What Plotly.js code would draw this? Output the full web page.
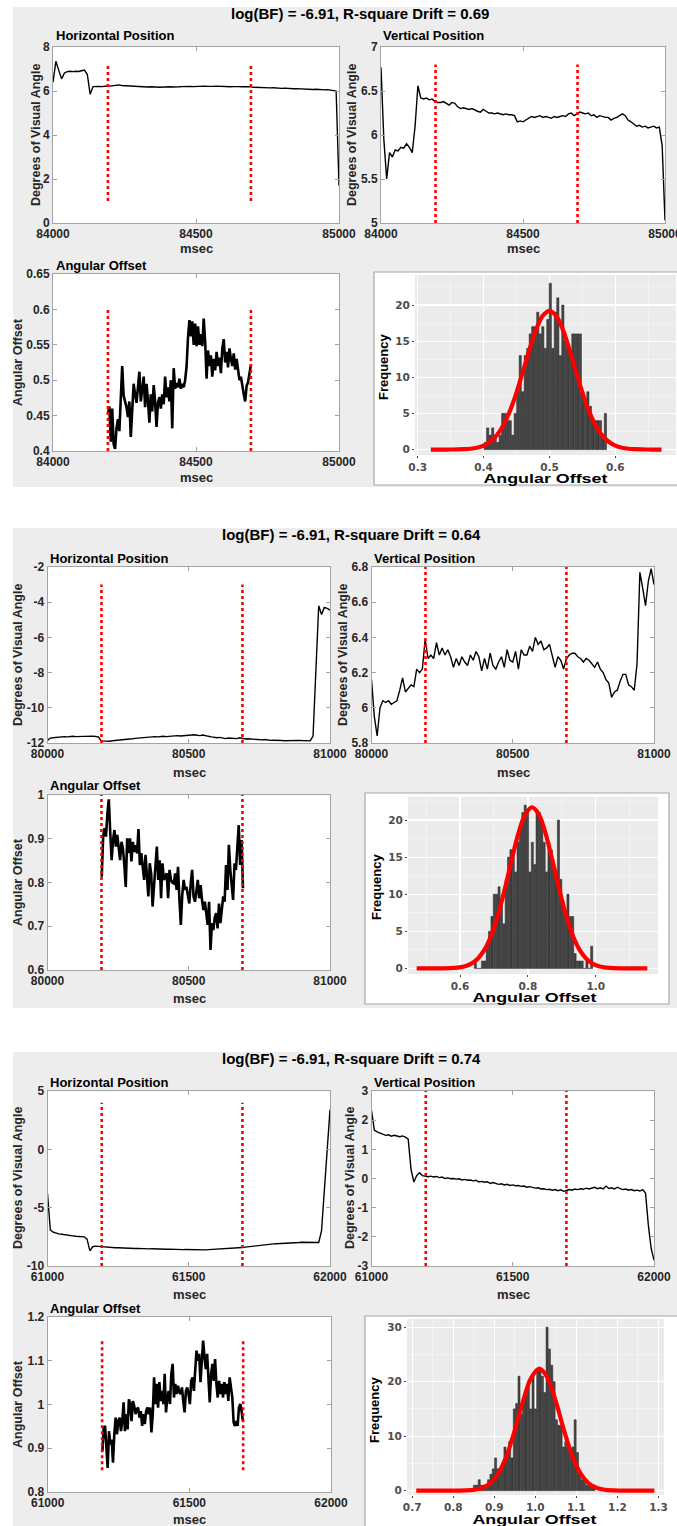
<!DOCTYPE html>
<html><head><meta charset="utf-8">
<script src="https://cdn.plot.ly/plotly-3.0.1.min.js"></script>
<style>html,body{margin:0;padding:0;background:#fff}</style>
</head><body><div id="chart" style="width:677px;height:1526px"></div>
<script>
// ================= DATA =================
const panelTitles = ['log(BF) = -6.91, R-square Drift = 0.69','log(BF) = -6.91, R-square Drift = 0.64','log(BF) = -6.91, R-square Drift = 0.74'];
const subTitles = ['Horizontal Position','Vertical Position','Angular Offset'];
const posYLabel = 'Degrees of Visual Angle';
const angYLabel = 'Angular Offset';
const timeLabel = 'msec';
const histXLabel = 'Angular Offset';
const histYLabel = 'Frequency';

// time windows (msec) and event markers
const p1Window = [84000, 85000], p2Window = [80000, 81000], p3Window = [61000, 62000];
const p1Markers = [84192, 84692], p2Markers = [80191, 80690], p3Markers = [61192, 61690];
const p1XTicks = [84000, 84500, 85000], p2XTicks = [80000, 80500, 81000], p3XTicks = [61000, 61500, 62000];
const posSampleMs = 10;

// ---- panel 1 ----
const p1H = [6.4,7.35,6.95,6.55,6.82,6.88,6.9,6.88,6.9,6.89,6.92,6.95,6.75,5.85,6.2,6.22,6.21,6.2,6.22,6.23,
6.22,6.24,6.25,6.28,6.25,6.24,6.23,6.22,6.21,6.2,6.21,6.19,6.2,6.18,6.19,6.17,6.18,6.17,6.18,6.17,
6.18,6.19,6.18,6.2,6.19,6.2,6.21,6.2,6.21,6.2,6.21,6.2,6.21,6.22,6.21,6.2,6.21,6.22,6.21,6.2,
6.21,6.2,6.19,6.2,6.21,6.2,6.19,6.2,6.21,6.2,6.17,6.16,6.17,6.15,6.16,6.15,6.14,6.15,6.13,6.14,
6.12,6.13,6.11,6.12,6.1,6.11,6.1,6.09,6.1,6.08,6.09,6.07,6.08,6.06,6.07,6.05,6.06,6.04,6.03,6.0,1.7];
const p1V = [6.77,5.95,5.5,5.8,5.75,5.83,5.82,5.86,5.85,5.9,5.86,5.8,6.1,6.56,6.42,6.41,6.42,6.4,6.41,6.38,
6.37,6.37,6.38,6.36,6.34,6.37,6.36,6.32,6.3,6.31,6.3,6.29,6.3,6.28,6.27,6.26,6.29,6.27,6.25,6.25,
6.24,6.25,6.24,6.23,6.24,6.23,6.23,6.22,6.15,6.16,6.15,6.17,6.2,6.21,6.2,6.21,6.22,6.2,6.21,6.2,
6.19,6.21,6.2,6.21,6.22,6.21,6.24,6.25,6.22,6.24,6.26,6.25,6.24,6.25,6.22,6.23,6.2,6.22,6.21,6.2,
6.2,6.17,6.19,6.2,6.22,6.24,6.22,6.17,6.15,6.13,6.1,6.11,6.09,6.1,6.08,6.09,6.1,6.08,6.09,5.88,5.03];
const p1AStart = 84192, p1ASampleMs = 5;
const p1A = [0.452,0.463,0.413,0.46,0.41,0.403,0.432,0.445,0.428,0.47,0.52,0.478,0.47,0.462,0.448,0.47,0.42,0.47,0.495,0.48,
0.468,0.49,0.512,0.47,0.486,0.505,0.462,0.495,0.472,0.44,0.48,0.456,0.493,0.47,0.434,0.468,0.476,0.46,0.48,0.466,
0.505,0.476,0.49,0.47,0.5,0.432,0.517,0.488,0.496,0.49,0.502,0.488,0.495,0.49,0.5,0.519,0.56,0.585,0.562,0.583,
0.55,0.58,0.548,0.576,0.55,0.565,0.548,0.587,0.555,0.502,0.542,0.52,0.535,0.505,0.53,0.514,0.54,0.52,0.532,0.51,
0.545,0.558,0.525,0.54,0.518,0.545,0.53,0.52,0.538,0.515,0.53,0.51,0.5,0.505,0.49,0.48,0.47,0.492,0.497,0.51,0.522];
const p1HYTicks = [0,2,4,6,8], p1VYTicks = [5,5.5,6,6.5,7], p1AYTicks = [0.4,0.45,0.5,0.55,0.6,0.65];
const p1HRed = [1, 7.25], p1VRed = [5, 6.8], p1ARed = [0.4, 0.6];
const p1HistStart = 0.4025, p1HistBin = 0.0038;
const p1Counts = [1,3,2,3,2,1,2,5,5,4,4,2,5,8,13,8,13,14,16,17,17,19,16,17,14,18,23,14,19,21,13,20,15,14,13,16,16,16,16,8,7,8,6,4,4,4,4,2,5];
const p1CurveStart = 0.32, p1CurveStep = 0.01;
const p1Curve = [0,0,0,0.01,0.02,0.05,0.11,0.26,0.55,1.08,1.97,3.36,5.34,7.89,10.87,13.94,16.66,18.53,19.2,18.53,16.66,13.94,10.87,7.89,5.34,3.36,1.97,1.08,0.55,0.26,0.11,0.05,0.02,0.01,0,0];
const p1HistX = [0.3,0.4,0.5,0.6], p1HistXText = ['0.3','0.4','0.5','0.6'];
const p1HistY = [0,5,10,15,20];

// ---- panel 2 ----
const p2H = [-11.85,-11.72,-11.7,-11.68,-11.65,-11.66,-11.64,-11.65,-11.63,-11.62,-11.64,-11.63,-11.62,-11.62,-11.63,-11.62,-11.61,-11.63,-11.65,-11.88,
-11.9,-11.88,-11.9,-11.87,-11.86,-11.84,-11.82,-11.8,-11.8,-11.78,-11.76,-11.74,-11.72,-11.7,-11.68,-11.66,-11.68,-11.66,-11.64,-11.65,
-11.63,-11.62,-11.64,-11.62,-11.6,-11.62,-11.58,-11.6,-11.58,-11.56,-11.58,-11.55,-11.53,-11.56,-11.58,-11.55,-11.6,-11.62,-11.65,-11.68,
-11.7,-11.68,-11.72,-11.75,-11.72,-11.74,-11.73,-11.75,-11.7,-11.75,-11.77,-11.76,-11.78,-11.8,-11.78,-11.8,-11.82,-11.8,-11.83,-11.85,
-11.84,-11.86,-11.85,-11.86,-11.87,-11.86,-11.85,-11.87,-11.86,-11.85,-11.86,-11.87,-11.86,-11.88,-11.6,-7.6,-4.2,-4.7,-4.3,-4.35,-4.45];
const p2V = [6.16,5.95,5.84,6.0,6.04,6.03,6.04,6.02,6.03,6.04,6.1,6.17,6.09,6.11,6.13,6.12,6.22,6.2,6.22,6.39,
6.28,6.3,6.28,6.37,6.3,6.34,6.3,6.33,6.29,6.23,6.28,6.24,6.29,6.26,6.24,6.3,6.27,6.32,6.29,6.21,
6.28,6.22,6.31,6.24,6.22,6.26,6.29,6.23,6.33,6.27,6.26,6.32,6.22,6.33,6.3,6.3,6.35,6.32,6.4,6.36,
6.38,6.33,6.34,6.36,6.3,6.23,6.29,6.27,6.22,6.28,6.3,6.31,6.31,6.29,6.28,6.26,6.28,6.27,6.25,6.23,
6.26,6.22,6.2,6.16,6.14,6.06,6.09,6.1,6.15,6.19,6.19,6.13,6.12,6.1,6.25,6.77,6.68,6.58,6.72,6.79,6.7];
const p2AStart = 80192, p2ASampleMs = 5;
const p2A = [0.813,0.905,0.924,0.905,0.958,0.99,0.916,0.851,0.897,0.92,0.882,0.909,0.88,0.851,0.893,0.878,0.84,0.79,0.901,0.867,
0.901,0.848,0.893,0.87,0.885,0.867,0.922,0.84,0.867,0.83,0.806,0.863,0.821,0.768,0.844,0.82,0.745,0.798,0.85,0.882,
0.806,0.851,0.764,0.844,0.806,0.815,0.821,0.764,0.829,0.806,0.8,0.798,0.821,0.783,0.836,0.76,0.703,0.771,0.806,0.783,
0.79,0.77,0.752,0.798,0.829,0.768,0.756,0.78,0.806,0.764,0.794,0.76,0.737,0.756,0.722,0.703,0.756,0.646,0.707,0.691,
0.72,0.73,0.695,0.752,0.707,0.74,0.768,0.756,0.84,0.783,0.886,0.829,0.8,0.76,0.844,0.829,0.88,0.931,0.84,0.897,0.787];
const p2HYTicks = [-12,-10,-8,-6,-4,-2], p2VYTicks = [5.8,6,6.2,6.4,6.6,6.8], p2AYTicks = [0.6,0.7,0.8,0.9,1];
const p2HRed = [-12, -3], p2VRed = [5.8, 6.8], p2ARed = [0.6, 1.0];
const p2HistStart = 0.645, p2HistBin = 0.007;
const p2Counts = [1,0,0,1,1,3,5,7,10,10,11,9,6,12,15,16,15,13,17,19,21,22,21,13,17,14,21,21,20,17,13,17,16,14,12,20,12,9,7,10,7,7,2,1,1,1,0,1,0,3];
const p2CurveStart = 0.472, p2CurveStep = 0.02;
const p2Curve = [0,0,0,0,0.01,0.04,0.11,0.27,0.62,1.31,2.53,4.47,7.25,10.75,14.6,18.2,20.77,21.7,20.77,18.2,14.6,10.75,7.25,4.47,2.53,1.31,0.62,0.27,0.11,0.04,0.01,0,0,0,0];
const p2HistX = [0.6,0.8,1.0], p2HistXText = ['0.6','0.8','1.0'];
const p2HistY = [0,5,10,15,20];

// ---- panel 3 ----
const p3H = [-3.8,-6.9,-7.1,-7.2,-7.25,-7.28,-7.3,-7.35,-7.38,-7.42,-7.45,-7.46,-7.48,-7.5,-7.7,-8.7,-8.35,-8.3,-8.32,-8.35,
-8.38,-8.36,-8.4,-8.42,-8.44,-8.43,-8.45,-8.46,-8.47,-8.48,-8.49,-8.5,-8.49,-8.51,-8.52,-8.51,-8.53,-8.52,-8.54,-8.53,
-8.55,-8.54,-8.56,-8.55,-8.57,-8.58,-8.57,-8.59,-8.6,-8.59,-8.6,-8.61,-8.62,-8.64,-8.63,-8.62,-8.62,-8.6,-8.59,-8.57,
-8.56,-8.55,-8.54,-8.52,-8.51,-8.5,-8.48,-8.46,-8.44,-8.42,-8.38,-8.35,-8.3,-8.28,-8.25,-8.2,-8.19,-8.17,-8.15,-8.13,
-8.1,-8.09,-8.07,-8.06,-8.05,-8.03,-8.02,-8.01,-8.0,-7.99,-7.97,-7.97,-7.96,-7.95,-7.96,-7.95,-7.98,-7.0,-3.2,0.3,3.4];
const p3V = [2.34,1.66,1.6,1.56,1.52,1.48,1.5,1.45,1.48,1.45,1.43,1.46,1.42,1.35,0.3,-0.12,0.1,0.2,0.1,0.08,
0.06,0.08,0.05,0.07,0.03,0.05,0.0,0.02,-0.01,0.0,-0.02,-0.01,-0.05,-0.03,-0.06,-0.05,-0.08,-0.06,-0.12,-0.1,
-0.13,-0.11,-0.17,-0.14,-0.18,-0.2,-0.18,-0.22,-0.2,-0.24,-0.22,-0.25,-0.24,-0.27,-0.26,-0.3,-0.28,-0.31,-0.33,-0.32,
-0.36,-0.35,-0.38,-0.37,-0.4,-0.38,-0.42,-0.39,-0.44,-0.41,-0.38,-0.4,-0.36,-0.38,-0.35,-0.37,-0.33,-0.36,-0.34,-0.3,
-0.35,-0.32,-0.36,-0.26,-0.34,-0.32,-0.36,-0.3,-0.35,-0.38,-0.36,-0.4,-0.38,-0.42,-0.4,-0.43,-0.38,-0.5,-1.6,-2.4,-2.8];
const p3AStart = 61193, p3ASampleMs = 4.68;
const p3A = [0.893,0.947,0.951,0.901,0.855,0.939,0.909,0.92,0.867,0.932,0.97,0.932,0.962,0.97,0.939,0.962,1.005,0.939,0.978,0.943,
1.012,1.001,0.962,1.008,0.997,0.978,0.989,0.993,0.97,0.985,0.951,0.978,0.955,0.985,0.993,0.978,0.993,0.936,0.978,1.062,
1.001,1.047,0.993,1.051,1.008,1.031,1.001,1.07,0.982,1.016,1.031,1.001,1.07,1.093,1.016,1.047,1.024,1.043,1.028,1.024,
1.039,1.008,0.982,1.031,1.039,1.024,1.001,1.054,1.062,1.031,1.093,1.123,1.1,1.116,1.051,1.093,1.146,1.108,1.081,1.116,
1.054,1.005,1.07,1.093,1.054,1.104,1.047,1.016,1.054,1.024,1.047,1.016,1.051,1.024,1.047,1.008,1.062,1.031,1.016,0.959,
0.951,0.962,0.951,0.993,1.001,0.985,0.962];
const p3HYTicks = [-10,-5,0,5], p3VYTicks = [-3,-2,-1,0,1,2,3], p3AYTicks = [0.8,0.9,1,1.1,1.2];
const p3HRed = [-10, 4], p3VRed = [-3, 3], p3ARed = [0.85, 1.15];
const p3HistStart = 0.852, p3HistBin = 0.0057;
const p3Counts = [1,1,2,1,1,1,2,3,4,6,4,4,5,8,7,9,6,15,16,21,14,17,18,20,15,21,15,22,22,21,18,30,26,23,20,13,12,12,8,9,8,7,8,13,7,3,2,2,1,1,1,1];
const p3CurveStart = 0.71, p3CurveStep = 0.02;
const p3Curve = [0,0,0,0,0,0.01,0.04,0.15,0.48,1.33,3.15,6.39,11.06,16.37,20.71,22.4,20.71,16.37,11.06,6.39,3.15,1.33,0.48,0.15,0.04,0.01,0,0,0,0];
const p3HistX = [0.7,0.8,0.9,1.0,1.1,1.2,1.3], p3HistXText = ['0.7','0.8','0.9','1.0','1.1','1.2','1.3'];
const p3HistY = [0,10,20,30];

// ================= LAYOUT / DRAWING =================
const W = 677, H = 1526;
const ARIAL = "Liberation Sans, Arial, sans-serif";
const GG = "DejaVu Sans, Verdana, sans-serif";
const AXC = '#a3a3a3';

const layout = {width:W, height:H, margin:{l:0,r:0,t:0,b:0}, paper_bgcolor:'#ededed', plot_bgcolor:'#ffffff',
  showlegend:false, bargap:0.12, shapes:[], annotations:[], font:{family:ARIAL}};
const traces = [];
const X = p => p / W, Y = p => 1 - p / H;
const sfx = n => (n === 1 ? '' : String(n));
const stretchList = [];

function txt(text, x, y, font, opts){
  layout.annotations.push(Object.assign({text:text, x:X(x), y:Y(y), xref:'paper', yref:'paper', showarrow:false,
    xanchor:'center', yanchor:'middle', font:font}, opts||{}));
  return layout.annotations.length - 1;
}
// box = [left, top, right, bottom] in pixels
function matAxes(n, box, xr, yr, xt, yt){
  const tf = {family:ARIAL, size:12, color:'#262626', weight:700};
  const common = {ticks:'inside', ticklen:4, tickwidth:1, tickcolor:AXC, showline:true, linecolor:AXC, linewidth:1,
    mirror:'ticks', showgrid:false, zeroline:false, fixedrange:true, tickfont:tf, tickmode:'array', ticklabeloverflow:'allow'};
  layout['xaxis'+sfx(n)] = Object.assign({}, common, {domain:[X(box[0]),X(box[2])], range:xr, anchor:'y'+sfx(n),
    tickvals:xt, ticktext:xt.map(String)});
  layout['yaxis'+sfx(n)] = Object.assign({}, common, {domain:[Y(box[3]),Y(box[1])], range:yr, anchor:'x'+sfx(n),
    tickvals:yt, ticktext:yt.map(String)});
}
function histAxes(n, box, xr, yr, xt, xtt, yt, xminor, yminor){
  const tf = {family:GG, size:10.5, color:'#4d4d4d', weight:700};
  const common = {ticks:'outside', ticklen:2, tickwidth:1, tickcolor:'#444', showline:false, showgrid:true,
    gridcolor:'#ffffff', gridwidth:1.2, zeroline:false, fixedrange:true, tickfont:tf, tickmode:'array', ticklabeloverflow:'allow'};
  layout['xaxis'+sfx(n)] = Object.assign({}, common, {domain:[X(box[0]),X(box[2])], range:xr, anchor:'y'+sfx(n),
    tickvals:xt, ticktext:xtt, minor:{tickvals:xminor, showgrid:true, gridcolor:'#f7f7f7', gridwidth:0.6, ticks:''}});
  layout['yaxis'+sfx(n)] = Object.assign({}, common, {domain:[Y(box[3]),Y(box[1])], range:yr, anchor:'x'+sfx(n),
    tickvals:yt, ticktext:yt.map(String), minor:{tickvals:yminor, showgrid:true, gridcolor:'#f7f7f7', gridwidth:0.6, ticks:''}});
  layout.shapes.push({type:'rect', xref:'x'+sfx(n), yref:'y'+sfx(n), x0:xr[0], x1:xr[1], y0:yr[0], y1:yr[1],
    fillcolor:'#ebebeb', line:{width:0}, layer:'below'});
}
function line(n, x0, dx, ys, w){
  traces.push({type:'scatter', mode:'lines', x0:x0, dx:dx, y:ys, xaxis:'x'+sfx(n), yaxis:'y'+sfx(n),
    line:{color:'#000', width:w}, hoverinfo:'skip'});
}
function redLines(n, times, ext){
  traces.push({type:'scatter', mode:'lines', x:[times[0],times[0],null,times[1],times[1]],
    y:[ext[0],ext[1],null,ext[0],ext[1]], xaxis:'x'+sfx(n), yaxis:'y'+sfx(n),
    line:{color:'#ff0000', width:2.6, dash:'dot'}, hoverinfo:'skip'});
}
function hist(n, start, bin, counts, cStart, cStep, curve){
  traces.push({type:'bar', x0:start, dx:bin, y:counts, xaxis:'x'+sfx(n), yaxis:'y'+sfx(n),
    marker:{color:'#474747', line:{color:'#222', width:0.5}}, hoverinfo:'skip'});
  traces.push({type:'scatter', mode:'lines', x0:cStart, dx:cStep, y:curve, xaxis:'x'+sfx(n), yaxis:'y'+sfx(n),
    line:{color:'#ff0000', width:4.2, shape:'spline'}, hoverinfo:'skip'});
}
function minorTicks(major){ const out=[]; const st=major[1]-major[0];
  for(let i=0;i<major.length-1;i++) out.push((major[i]+major[i+1])/2);
  out.unshift(major[0]-st/2); out.push(major[major.length-1]+st/2); return out; }

// white gaps between the grey panels
[[0,0,W,7],[0,0,13,H],[0,487,W,528],[0,1008,W,1052]].forEach(r=>{
  layout.shapes.push({type:'rect', xref:'paper', yref:'paper', x0:X(r[0]), x1:X(r[2]), y0:Y(r[3]), y1:Y(r[1]),
    fillcolor:'#ffffff', line:{width:0}, layer:'below'});
});
// white boxes holding the histogram images
[[374,272,681,485],[365,793,669,1004],[365,1316,681,1530]].forEach(r=>{
  layout.shapes.push({type:'rect', xref:'paper', yref:'paper', x0:X(r[0]), x1:X(r[2]), y0:Y(r[3]), y1:Y(r[1]),
    fillcolor:'#ffffff', line:{color:'#a8a8a8', width:1.2}, layer:'below'});
});

const panels = [
 {n:1, win:p1Window, mk:p1Markers, xt:p1XTicks, Hd:p1H, Vd:p1V, Ad:p1A, aS:p1AStart, aDx:p1ASampleMs,
  hyt:p1HYTicks, vyt:p1VYTicks, ayt:p1AYTicks, hr:p1HRed, vr:p1VRed, ar:p1ARed,
  hRange:[0,8], vRange:[5,7], aRange:[0.4,0.65],
  hs:[p1HistStart,p1HistBin,p1Counts,p1CurveStart,p1CurveStep,p1Curve], hx:p1HistX, hxt:p1HistXText, hy:p1HistY,
  hxr:[0.296,0.692], hyr:[-0.75,24.15],
  boxH:[53,47,339,223], boxV:[381,47,665,223], boxA:[53,274,339,451], boxG:[415,275,676,455],
  title:[360,13], st:[[54,36],[381,36],[54,265]], ms:[[196,249],[523,249],[196,478]],
  yl:[[36,135],[352,135],[18,362]], fq:[384,367], hxl:[546,479]},
 {n:5, win:p2Window, mk:p2Markers, xt:p2XTicks, Hd:p2H, Vd:p2V, Ad:p2A, aS:p2AStart, aDx:p2ASampleMs,
  hyt:p2HYTicks, vyt:p2VYTicks, ayt:p2AYTicks, hr:p2HRed, vr:p2VRed, ar:p2ARed,
  hRange:[-12,-2], vRange:[5.8,6.8], aRange:[0.6,1],
  hs:[p2HistStart,p2HistBin,p2Counts,p2CurveStart,p2CurveStep,p2Curve], hx:p2HistX, hxt:p2HistXText, hy:p2HistY,
  hxr:[0.4465,1.1835], hyr:[-0.75,23.1],
  boxH:[47.5,567,330,743], boxV:[371.5,567,654,743], boxA:[47.5,795,330,970], boxG:[408,797,658,974],
  title:[351,535], st:[[47.5,558],[372,558],[47.5,785]], ms:[[189,772],[513,772],[189,998]],
  yl:[[18,655],[343,655],[18,882]], fq:[376,887], hxl:[535,998]},
 {n:9, win:p3Window, mk:p3Markers, xt:p3XTicks, Hd:p3H, Vd:p3V, Ad:p3A, aS:p3AStart, aDx:p3ASampleMs,
  hyt:p3HYTicks, vyt:p3VYTicks, ayt:p3AYTicks, hr:p3HRed, vr:p3VRed, ar:p3ARed,
  hRange:[-10,5], vRange:[-3,3], aRange:[0.8,1.2],
  hs:[p3HistStart,p3HistBin,p3Counts,p3CurveStart,p3CurveStep,p3Curve], hx:p3HistX, hxt:p3HistXText, hy:p3HistY,
  hxr:[0.6875,1.3135], hyr:[-0.8,31.5],
  boxH:[47.5,1091,330,1266], boxV:[371.5,1091,654,1266], boxA:[47.7,1317,331,1492], boxG:[407,1319,664,1495],
  title:[351,1058], st:[[47.5,1082],[372,1082],[47.5,1308]], ms:[[189,1294],[513,1294],[189,1519]],
  yl:[[18,1178],[350,1178],[18,1404]], fq:[374,1410], hxl:[535,1519.5]}
];

const titleFont = {family:ARIAL, size:15, color:'#000', weight:700};
const subFont = {family:ARIAL, size:13, color:'#000', weight:700};
const msFont = {family:ARIAL, size:13, color:'#262626', weight:700};
const ylFont = {family:ARIAL, size:12.5, color:'#262626', weight:700};

panels.forEach((P, i) => {
  const n = P.n;
  matAxes(n, P.boxH, P.win, P.hRange, P.xt, P.hyt);
  matAxes(n+1, P.boxV, P.win, P.vRange, P.xt, P.vyt);
  matAxes(n+2, P.boxA, P.win, P.aRange, P.xt, P.ayt);
  histAxes(n+3, P.boxG, P.hxr, P.hyr, P.hx, P.hxt, P.hy, minorTicks(P.hx), minorTicks(P.hy));
  line(n, P.win[0], posSampleMs, P.Hd, 1.4);
  line(n+1, P.win[0], posSampleMs, P.Vd, 1.4);
  line(n+2, P.aS, P.aDx, P.Ad, 2.6);
  redLines(n, P.mk, P.hr);
  redLines(n+1, P.mk, P.vr);
  redLines(n+2, P.mk, P.ar);
  hist(n+3, ...P.hs);
  txt(panelTitles[i], P.title[0], P.title[1], titleFont);
  subTitles.forEach((s, k) => txt(s, P.st[k][0], P.st[k][1], subFont, {xanchor:'left'}));
  P.ms.forEach(m => txt(timeLabel, m[0], m[1], msFont));
  txt(posYLabel, P.yl[0][0], P.yl[0][1], ylFont, {textangle:-90});
  txt(posYLabel, P.yl[1][0], P.yl[1][1], ylFont, {textangle:-90});
  txt(angYLabel, P.yl[2][0], P.yl[2][1], ylFont, {textangle:-90});
  txt(histYLabel, P.fq[0], P.fq[1], {family:ARIAL, size:13, color:'#000', weight:700}, {textangle:-90});
  stretchList.push(txt(histXLabel, P.hxl[0], P.hxl[1], {family:ARIAL, size:12.5, color:'#000', weight:700}));
});

Plotly.newPlot('chart', traces, layout, {staticPlot:true, displayModeBar:false}).then(gd => {
  // the histogram images in the source are stretched horizontally: widen their x-axis titles the same way
  stretchList.forEach(idx => {
    const t = gd.querySelector('.annotation[data-index="' + idx + '"] text.annotation-text');
    if (t) { t.setAttribute('textLength', '124'); t.setAttribute('lengthAdjust', 'spacingAndGlyphs'); }
  });
});
</script></body></html>
